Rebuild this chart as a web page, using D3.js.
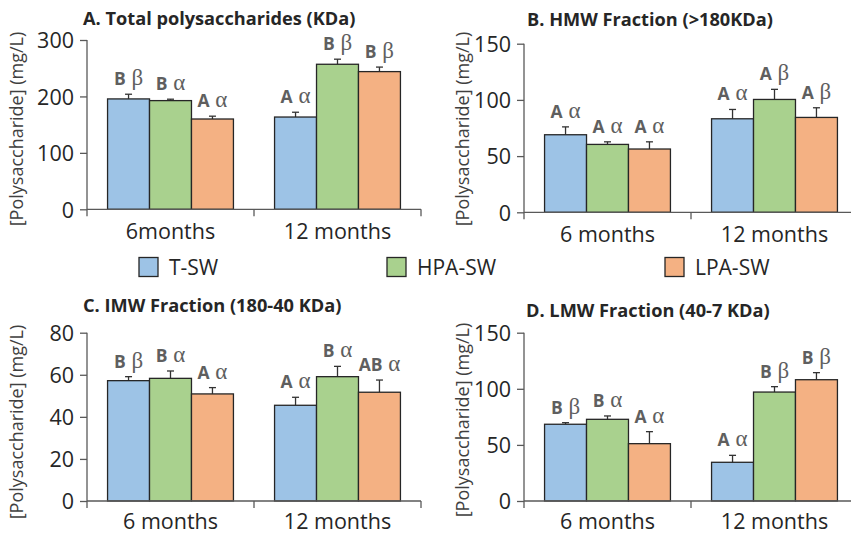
<!DOCTYPE html>
<html><head><meta charset="utf-8">
<script src="https://cdn.jsdelivr.net/npm/d3@7"></script>
<style>body{margin:0;background:#fff}svg{display:block}</style></head>
<body>
<svg id="c" width="851" height="534"></svg>
<script>
// ---------- data ----------
const series = ["T-SW", "HPA-SW", "LPA-SW"];
const seriesColors = ["#9DC3E6", "#A9D18E", "#F4B183"];
const periodsA = ["6months", "12 months"];
const periods = ["6 months", "12 months"];
const titles = ["A. Total polysaccharides (KDa)", "B. HMW Fraction (>180KDa)", "C. IMW Fraction (180-40 KDa)", "D. LMW Fraction (40-7 KDa)"];
const yTitle = "[Polysaccharide] (mg/L)";
const yTicksA = [0, 100, 200, 300];
const yTicksB = [0, 50, 100, 150];
const yTicksC = [0, 20, 40, 60, 80];
const yTicksD = [0, 50, 100, 150];

// values indexed [series][period]
const totalMean = [[195.6, 163.5], [192.6, 257], [160, 244]];
const totalErr  = [[8.3, 8.5], [2.5, 9], [5, 8]];
const totalLetter = [["B", "A"], ["B", "B"], ["A", "B"]];
const totalGreek  = [["β", "α"], ["α", "β"], ["α", "β"]];

const hmwMean = [[69, 83.2], [60.4, 100.4], [56.3, 84.4]];
const hmwErr  = [[7, 8.3], [2.3, 9], [6.4, 8.6]];
const hmwLetter = [["A", "A"], ["A", "A"], ["A", "A"]];
const hmwGreek  = [["α", "α"], ["α", "β"], ["α", "β"]];

const imwMean = [[57.2, 45.5], [58.3, 59.1], [50.9, 51.7]];
const imwErr  = [[1.9, 3.8], [3.5, 4.9], [3, 5.8]];
const imwLetter = [["B", "A"], ["B", "B"], ["A", "AB"]];
const imwGreek  = [["β", "α"], ["α", "α"], ["α", "α"]];

const lmwMean = [[68.4, 34.5], [72.8, 97.1], [51.1, 108.1]];
const lmwErr  = [[1.4, 6.2], [3, 4.8], [10.7, 6.3]];
const lmwLetter = [["B", "A"], ["B", "B"], ["A", "B"]];
const lmwGreek  = [["β", "α"], ["α", "β"], ["α", "β"]];

// ---------- layout ----------
const panels = [
  {title: titles[0], cats: periodsA, ticks: yTicksA, mean: totalMean, err: totalErr, letter: totalLetter, greek: totalGreek,
   left: 87, right: 421, top: 40, bottom: 209.3, titleX: 83, titleY: 25, ytX: 23, ytY: 129, xlY: 30},
  {title: titles[1], cats: periods, ticks: yTicksB, mean: hmwMean, err: hmwErr, letter: hmwLetter, greek: hmwGreek,
   left: 524, right: 858, top: 43.7, bottom: 212.3, titleX: 527, titleY: 26, ytX: 469, ytY: 129, xlY: 30},
  {title: titles[2], cats: periods, ticks: yTicksC, mean: imwMean, err: imwErr, letter: imwLetter, greek: imwGreek,
   left: 87, right: 421, top: 332.7, bottom: 501, titleX: 83, titleY: 312, ytX: 23, ytY: 422, xlY: 27.5},
  {title: titles[3], cats: periods, ticks: yTicksD, mean: lmwMean, err: lmwErr, letter: lmwLetter, greek: lmwGreek,
   left: 524, right: 858, top: 332.7, bottom: 501, titleX: 526, titleY: 317, ytX: 469, ytY: 420, xlY: 27.5}
];

const FONT = "'Open Sans', 'DejaVu Sans', sans-serif";
const svg = d3.select("#c");
const axisColor = "#595959";
const textColor = "#262626";
const labelColor = "#5f5f5f";

panels.forEach(p => {
  const g = svg.append("g");
  const x0 = d3.scaleBand().domain(p.cats).range([p.left, p.right]).paddingInner(0).paddingOuter(0);
  const x1 = d3.scaleBand().domain(series).range([0, x0.bandwidth()]).paddingInner(0).paddingOuter(0.49);
  const y = d3.scaleLinear().domain([0, d3.max(p.ticks)]).range([p.bottom, p.top]);

  // title
  g.append("text").attr("x", p.titleX).attr("y", p.titleY)
    .attr("font-family", FONT).attr("font-weight", "bold").attr("font-size", 18.2)
    .attr("fill", textColor).text(p.title);

  // y title
  g.append("text").attr("transform", `translate(${p.ytX},${p.ytY}) rotate(-90)`)
    .attr("text-anchor", "middle").attr("font-family", FONT).attr("font-size", 18)
    .attr("fill", "#404040").text(yTitle);

  const flat = [];
  series.forEach((s, si) => p.cats.forEach((c, ci) => flat.push({s, si, c, ci,
    v: p.mean[si][ci], e: p.err[si][ci], L: p.letter[si][ci], G: p.greek[si][ci]})));

  // error bars (up only)
  flat.forEach(d => {
    const cx = x0(d.c) + x1(d.s) + x1.bandwidth() / 2;
    g.append("line").attr("x1", cx).attr("x2", cx).attr("y1", y(d.v)).attr("y2", y(d.v + d.e))
      .attr("stroke", "#333").attr("stroke-width", 1.3);
    g.append("line").attr("x1", cx - 3.5).attr("x2", cx + 3.5).attr("y1", y(d.v + d.e)).attr("y2", y(d.v + d.e))
      .attr("stroke", "#333").attr("stroke-width", 1.3);
  });

  g.selectAll("rect.bar").data(flat).enter().append("rect").attr("class", "bar")
    .attr("x", d => x0(d.c) + x1(d.s))
    .attr("y", d => y(d.v))
    .attr("width", x1.bandwidth())
    .attr("height", d => y(0) - y(d.v))
    .attr("fill", d => seriesColors[d.si])
    .attr("stroke", "#262626").attr("stroke-width", 1.3);

  // significance labels
  flat.forEach(d => {
    const cx = x0(d.c) + x1(d.s) + x1.bandwidth() / 2;
    const t = g.append("text").attr("x", cx).attr("y", y(d.v + d.e) - 9)
      .attr("text-anchor", "middle").attr("fill", labelColor);
    t.append("tspan").attr("font-family", FONT).attr("font-weight", "bold").attr("font-size", 17.5).text(d.L);
    t.append("tspan").attr("font-family", "'Liberation Serif', 'DejaVu Serif', serif").attr("font-size", 23).text(" " + d.G);
  });

  // y axis
  const ya = g.append("g").attr("transform", `translate(${p.left},0)`)
    .call(d3.axisLeft(y).tickValues(p.ticks).tickSize(7).tickSizeOuter(0).tickPadding(6).tickFormat(d3.format("d")));
  ya.select(".domain").attr("stroke", axisColor).attr("stroke-width", 1.3)
    .attr("d", `M0,${p.top}V${p.bottom + 7}`);
  ya.selectAll(".tick line").attr("stroke", axisColor).attr("stroke-width", 1.3);
  ya.selectAll(".tick text").attr("font-family", FONT).attr("font-size", 21.5).attr("fill", textColor)
    .attr("dy", "0.36em");

  // x axis
  const xa = g.append("g").attr("transform", `translate(0,${p.bottom})`)
    .call(d3.axisBottom(x0).tickSize(0).tickPadding(0));
  xa.select(".domain").attr("stroke", axisColor).attr("stroke-width", 1.3)
    .attr("d", `M${p.left},0H${p.right}`);
  xa.selectAll(".tick text").attr("font-family", FONT).attr("font-size", 21.5).attr("fill", textColor)
    .attr("y", p.xlY).attr("dy", 0);
  const bounds = p.cats.map(c => x0(c)).concat([x0(p.cats[p.cats.length - 1]) + x0.bandwidth()]);
  xa.selectAll("line.bnd").data(bounds.slice(1)).enter().append("line").attr("class", "bnd")
    .attr("x1", d => d).attr("x2", d => d).attr("y1", 0).attr("y2", 7)
    .attr("stroke", axisColor).attr("stroke-width", 1.3);
});

// legend
const legendX = [139, 387, 665];
const lg = svg.append("g");
series.forEach((s, i) => {
  lg.append("rect").attr("x", legendX[i]).attr("y", 257.5).attr("width", 19).attr("height", 19)
    .attr("fill", seriesColors[i]).attr("stroke", "#262626").attr("stroke-width", 1.3);
  lg.append("text").attr("x", legendX[i] + 30).attr("y", 275).attr("font-family", FONT)
    .attr("font-size", 21).attr("fill", textColor).text(s);
});
</script>
</body></html>
